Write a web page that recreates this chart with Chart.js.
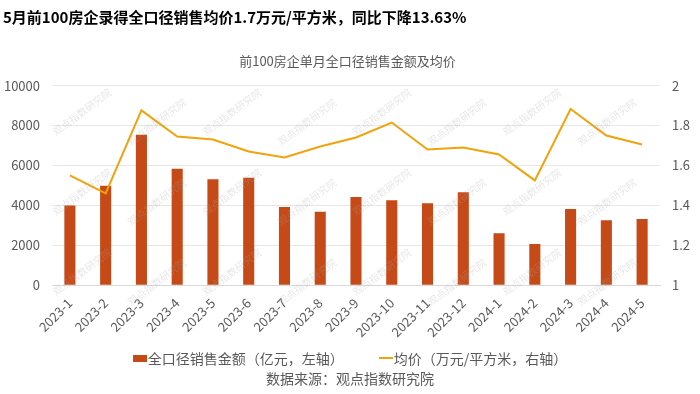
<!DOCTYPE html>
<html>
<head>
<meta charset="utf-8">
<script src="https://cdn.jsdelivr.net/npm/chart.js@4.4.1/dist/chart.umd.min.js"></script>
<style>
  body { margin: 0; background: #fff; font-family: "Noto Sans CJK SC", sans-serif; }
  #wrap { position: relative; width: 700px; height: 394px; }
  #legend { position: absolute; left: 0; top: 348px; width: 700px; display: flex; justify-content: center;
            gap: 35px; font-size: 14px; color: #595959; line-height: 20px; }
  #legend span.item { display: flex; align-items: center; }
  #legend i { display: inline-block; width: 14px; margin-right: 1px; }
  #source { position: absolute; left: 0; top: 368px; width: 700px; text-align: center;
            font-size: 14px; color: #595959; line-height: 20px; }
</style>
</head>
<body>
<div id="wrap">
  <canvas id="chart" width="700" height="394"></canvas>
  <div id="legend"></div>
  <div id="source">数据来源：观点指数研究院</div>
</div>
<script>
// 月份
const months = ['2023-1', '2023-2', '2023-3', '2023-4', '2023-5', '2023-6', '2023-7', '2023-8', '2023-9',
  '2023-10', '2023-11', '2023-12', '2024-1', '2024-2', '2024-3', '2024-4', '2024-5'];
// 全口径销售金额（亿元）
const salesAmount = [3990, 4980, 7540, 5830, 5310, 5380, 3920, 3680, 4420, 4260, 4100, 4660, 2600, 2060, 3820, 3250, 3320];
// 均价（万元/平方米）
const avgPrice = [1.55, 1.46, 1.876, 1.745, 1.73, 1.67, 1.64, 1.695, 1.74, 1.815, 1.68, 1.69, 1.655, 1.525, 1.883, 1.75, 1.705];
// 坐标轴刻度
const leftTicks = [0, 2000, 4000, 6000, 8000, 10000];
const rightTicks = [1, 1.2, 1.4, 1.6, 1.8, 2];

const FONT = '"Noto Sans CJK SC", "Noto Sans", sans-serif';
const GREY = '#595959';
const BAR_COLOR = '#C64A17';
const LINE_COLOR = '#F0A30A';

// 水印
const watermark = {
  id: 'watermark',
  afterDatasetsDraw(chart) {
    const ctx = chart.ctx;
    ctx.save();
    ctx.font = '10px ' + FONT;
    ctx.fillStyle = 'rgba(170,170,170,0.28)';
    ctx.textAlign = 'center';
    ctx.textBaseline = 'middle';
    for (let c = 0; c < 8; c++) {
      for (let r = 0; r < 3; r++) {
        ctx.save();
        ctx.translate(82 + c * 75, 112 + r * 80 + (c % 2) * 10);
        ctx.rotate(-37 * Math.PI / 180);
        ctx.fillText('观点指数研究院', 0, 0);
        ctx.restore();
      }
    }
    ctx.restore();
  }
};

const chart = new Chart(document.getElementById('chart').getContext('2d'), {
  data: {
    labels: months,
    datasets: [
      {
        type: 'line',
        label: '均价（万元/平方米，右轴）',
        data: avgPrice,
        yAxisID: 'y1',
        borderColor: LINE_COLOR,
        backgroundColor: LINE_COLOR,
        borderWidth: 2,
        pointRadius: 0,
        tension: 0,
        order: 0
      },
      {
        type: 'bar',
        label: '全口径销售金额（亿元，左轴）',
        data: salesAmount,
        yAxisID: 'y',
        backgroundColor: BAR_COLOR,
        borderWidth: 0,
        barPercentage: 0.62,
        categoryPercentage: 0.5,
        order: 1
      }
    ]
  },
  options: {
    responsive: false,
    animation: false,
    layout: { padding: { left: 3, right: 8, bottom: 52 } },
    scales: {
      x: {
        grid: { display: false },
        border: { display: true, color: '#d9d9d9' },
        ticks: { color: GREY, font: { family: FONT, size: 13 }, minRotation: 45, maxRotation: 45, padding: 2 },
        // 旋转的标签不需要额外的左右留白
        afterFit: axis => { axis.paddingLeft = 0; axis.paddingRight = 0; }
      },
      y: {
        position: 'left',
        min: leftTicks[0],
        max: leftTicks[leftTicks.length - 1],
        afterBuildTicks: axis => { axis.ticks = leftTicks.map(v => ({ value: v })); },
        afterFit: axis => { axis.width = 49; },
        grid: { color: '#e6e6e6', drawTicks: false },
        border: { display: false },
        ticks: { color: GREY, font: { family: FONT, size: 13 }, padding: 12, callback: v => String(v) }
      },
      y1: {
        position: 'right',
        min: rightTicks[0],
        max: rightTicks[rightTicks.length - 1],
        afterBuildTicks: axis => { axis.ticks = rightTicks.map(v => ({ value: v })); },
        afterFit: axis => { axis.width = 32; },
        grid: { display: false, drawTicks: false },
        border: { display: false },
        ticks: { color: GREY, font: { family: FONT, size: 13 }, padding: 12,
                 callback: v => (v === 1 || v === 2) ? String(v) : v.toFixed(1) }
      }
    },
    plugins: {
      title: {
        display: true,
        text: '5月前100房企录得全口径销售均价1.7万元/平方米，同比下降13.63%',
        align: 'start',
        color: '#000',
        font: { family: FONT, size: 15, weight: 'bold' },
        padding: { top: 8, bottom: 27 }
      },
      subtitle: {
        display: true,
        text: '前100房企单月全口径销售金额及均价',
        color: GREY,
        font: { family: FONT, size: 13, weight: 'normal' },
        padding: { top: 0, bottom: 17 }
      },
      legend: { display: false },
      tooltip: { enabled: false }
    }
  },
  plugins: [watermark]
});

// 图例（柱在前，线在后）
const legendBox = document.getElementById('legend');
[chart.data.datasets[1], chart.data.datasets[0]].forEach(ds => {
  const item = document.createElement('span');
  item.className = 'item';
  const icon = document.createElement('i');
  if (ds.type === 'bar') {
    icon.style.height = '7px';
    icon.style.background = ds.backgroundColor;
  } else {
    icon.style.height = '2px';
    icon.style.background = ds.borderColor;
  }
  item.appendChild(icon);
  item.appendChild(document.createTextNode(ds.label));
  legendBox.appendChild(item);
});
</script>
</body>
</html>
